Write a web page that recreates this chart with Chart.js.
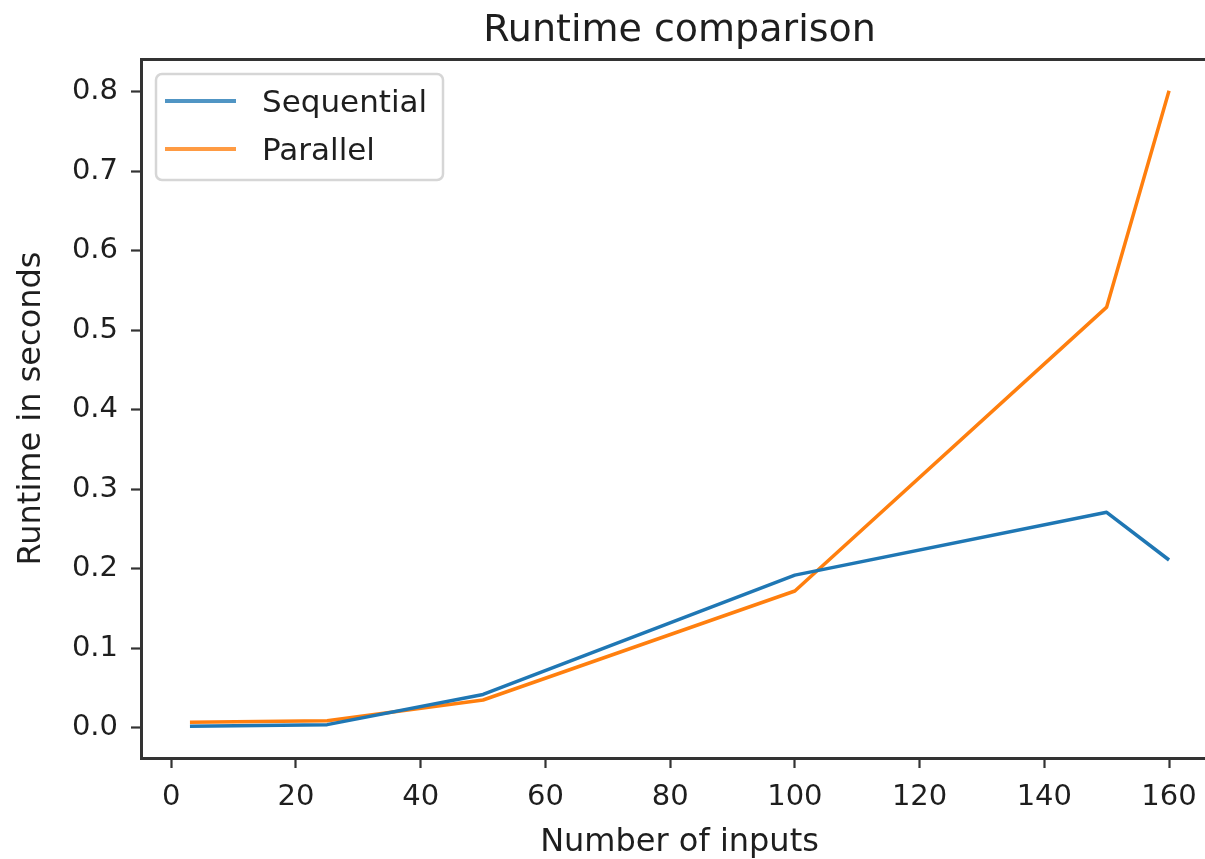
<!DOCTYPE html>
<html>
<head>
<meta charset="utf-8">
<script src="https://cdn.jsdelivr.net/npm/chart.js@4.4.1/dist/chart.umd.min.js"></script>
<style>
html,body{margin:0;padding:0;background:#fff;overflow:hidden;width:1205px;height:859px}
#wrap{position:absolute;left:0;top:0;width:1230px;height:859px}
</style>
</head>
<body>
<div id="wrap"><canvas id="c" width="1230" height="859"></canvas></div>
<script>
// ---- data ----
const chartTitle = 'Runtime comparison';
const xAxisLabel = 'Number of inputs';
const yAxisLabel = 'Runtime in seconds';
const seriesNames = ['Sequential', 'Parallel'];
const inputs = [3, 25, 50, 100, 150, 160];
const sequential = [0.002, 0.004, 0.042, 0.192, 0.271, 0.211];
const parallel = [0.007, 0.009, 0.035, 0.172, 0.529, 0.801];
const xTicks = [0, 20, 40, 60, 80, 100, 120, 140, 160];
const yTicks = [0.0, 0.1, 0.2, 0.3, 0.4, 0.5, 0.6, 0.7, 0.8];

// ---- styles ----
const seriesColors = ['#1f77b4', '#ff7f0e'];
const legendColors = ['rgba(31,119,180,0.78)', 'rgba(255,127,14,0.78)'];
const FONT = '"DejaVu Sans", Verdana, sans-serif';
const TEXT = '#1e1e1e';
const SPINE = '#333333';

function pad(arr, frac) {
  const mn = Math.min(...arr), mx = Math.max(...arr), s = mx - mn;
  return [mn - frac * s, mx + frac * s];
}
const [xMin, xMax] = pad(inputs, 0.05);
const [yMin, yMax] = pad(sequential.concat(parallel), 0.05);

const toXY = ys => inputs.map((x, i) => ({x: x, y: ys[i]}));

const framePlugin = {
  id: 'frame',
  afterDraw(chart) {
    const {ctx, chartArea: a} = chart;
    ctx.save();
    // title centred over the axes
    ctx.fillStyle = TEXT;
    ctx.font = '38px ' + FONT;
    ctx.textAlign = 'center';
    ctx.textBaseline = 'alphabetic';
    ctx.fillText(chartTitle, (a.left + a.right) / 2, 41);
    // legend
    const lx = a.left + 15, ly = a.top + 15, lw = 287, lh = 106;
    ctx.fillStyle = 'rgba(255,255,255,0.85)';
    ctx.strokeStyle = '#d6d6d6';
    ctx.lineWidth = 2.5;
    ctx.beginPath();
    ctx.roundRect(lx, ly, lw, lh, 6);
    ctx.fill();
    ctx.stroke();
    ctx.font = '31px ' + FONT;
    ctx.textAlign = 'left';
    ctx.textBaseline = 'middle';
    chart.data.datasets.forEach((ds, i) => {
      const yy = ly + 27 + i * 48;
      ctx.fillStyle = legendColors[i];
      ctx.fillRect(lx + 9, yy - 2, 71, 4);
      ctx.fillStyle = TEXT;
      ctx.fillText(ds.label, lx + 106, yy + 3);
    });
    ctx.restore();
  }
};

new Chart(document.getElementById('c'), {
  type: 'line',
  data: {
    datasets: [
      {label: seriesNames[0], data: toXY(sequential), borderColor: seriesColors[0], backgroundColor: seriesColors[0]},
      {label: seriesNames[1], data: toXY(parallel), borderColor: seriesColors[1], backgroundColor: seriesColors[1]}
    ]
  },
  options: {
    responsive: false,
    animation: false,
    devicePixelRatio: 1,
    layout: {padding: {left: 0, top: 59, right: 12, bottom: 0}},
    elements: {
      line: {borderWidth: 3.5, tension: 0, borderCapStyle: 'butt', borderJoinStyle: 'round'},
      point: {radius: 0, hoverRadius: 0}
    },
    plugins: {legend: {display: false}, title: {display: false}, tooltip: {enabled: false}},
    scales: {
      x: {
        type: 'linear', min: xMin, max: xMax,
        afterBuildTicks: s => { s.ticks = xTicks.map(v => ({value: v})); },
        afterFit: s => { s.height = 101; },
        grid: {display: true, drawOnChartArea: false, drawTicks: true, tickLength: 10, tickWidth: 2.2, tickColor: SPINE},
        border: {display: true, color: SPINE, width: 3},
        ticks: {color: TEXT, font: {family: FONT, size: 29}, padding: 12, maxRotation: 0, autoSkip: false, callback: v => String(v)},
        title: {display: true, text: xAxisLabel, color: TEXT, font: {family: FONT, size: 32, lineHeight: 1.0}, padding: {top: 0, bottom: 0}}
      },
      xTop: {
        type: 'linear', position: 'top', min: xMin, max: xMax,
        afterFit: s => { s.height = 0; },
        grid: {display: true, drawOnChartArea: false, drawTicks: false},
        border: {display: true, color: SPINE, width: 3},
        ticks: {display: false}
      },
      y: {
        type: 'linear', min: yMin, max: yMax,
        afterBuildTicks: s => { s.ticks = yTicks.map(v => ({value: v})); },
        afterFit: s => { s.width = 141; },
        grid: {display: true, drawOnChartArea: false, drawTicks: true, tickLength: 10, tickWidth: 2.2, tickColor: SPINE},
        border: {display: true, color: SPINE, width: 3},
        ticks: {color: TEXT, font: {family: FONT, size: 29}, padding: 13, autoSkip: false, callback: v => Number(v).toFixed(1)},
        title: {display: true, text: yAxisLabel, color: TEXT, font: {family: FONT, size: 32, lineHeight: 1.2}, padding: {top: 12, bottom: 0}}
      }
    }
  },
  plugins: [framePlugin]
});
</script>
</body>
</html>
